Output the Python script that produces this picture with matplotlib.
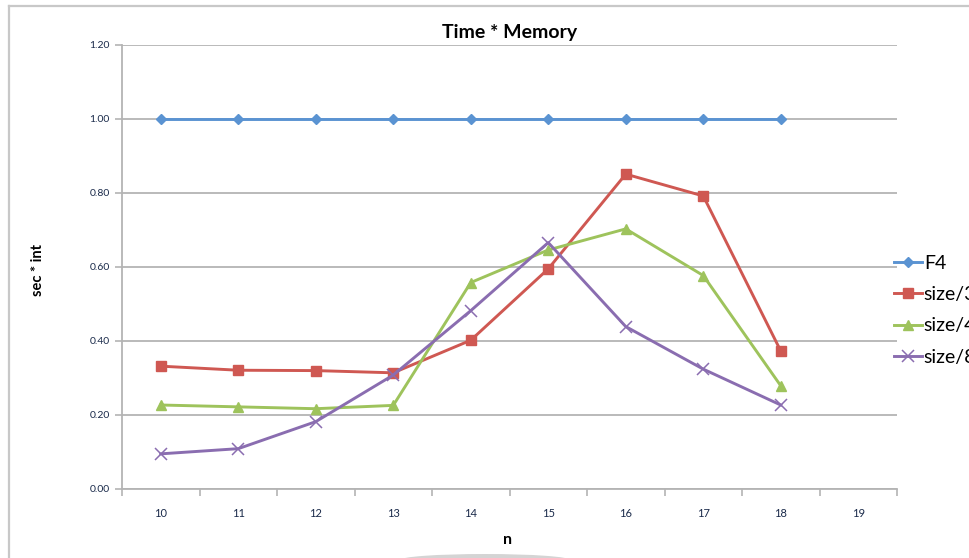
import matplotlib
matplotlib.use("Agg")
import matplotlib.pyplot as plt
from matplotlib.patches import Ellipse
from matplotlib.lines import Line2D

plt.rcParams['font.family'] = ['Lato', 'DejaVu Sans']

n_values = [10, 11, 12, 13, 14, 15, 16, 17, 18]
categories = [10, 11, 12, 13, 14, 15, 16, 17, 18, 19]
f4 = [1.00, 1.00, 1.00, 1.00, 1.00, 1.00, 1.00, 1.00, 1.00]
size_3 = [0.332, 0.321, 0.320, 0.314, 0.402, 0.595, 0.851, 0.792, 0.373]
size_4 = [0.227, 0.222, 0.217, 0.226, 0.558, 0.646, 0.703, 0.577, 0.279]
size_8 = [0.095, 0.109, 0.182, 0.308, 0.482, 0.666, 0.439, 0.324, 0.227]
series_names = ["F4", "size/3", "size/4", "size/8"]
y_ticks = [0.0, 0.2, 0.4, 0.6, 0.8, 1.0, 1.2]

W, H = 969, 558
fig = plt.figure(figsize=(W / 100, H / 100), dpi=100)
fig.patch.set_facecolor("white")

# outer chart frame (top and left edges visible)
fig.add_artist(Line2D([9 / W, 9 / W], [0, 1 - 6 / H], transform=fig.transFigure,
                      color="#c8c8c8", lw=1.6))
fig.add_artist(Line2D([9 / W, 1], [1 - 6 / H, 1 - 6 / H], transform=fig.transFigure,
                      color="#c8c8c8", lw=1.6))

ax = fig.add_axes([122 / W, 1 - 489 / H, (897 - 122) / W, (489 - 45) / H])

colors = ["#5a93d2", "#cf5852", "#9ec35c", "#8a6db0"]
data = [f4, size_3, size_4, size_8]
markers = ["D", "s", "^", "x"]
msizes = [5, 7, 7, 8]
for vals, c, m, ms, name in zip(data, colors, markers, msizes, series_names):
    kw = dict(markeredgewidth=1.1) if m == "x" else dict(markeredgecolor=c)
    ax.plot(n_values, vals, color=c, lw=2.1, marker=m, markersize=ms,
            markerfacecolor=c, label=name, zorder=3, **kw)

ax.set_xlim(9.5, 19.5)
ax.set_ylim(0, 1.2)
ax.set_yticks(y_ticks)
ax.set_yticklabels([f"{v:.2f}" for v in y_ticks])
ax.set_xticks(categories)
ax.set_xticklabels([str(c) for c in categories])
ax.set_xticks([c - 0.5 for c in categories] + [19.5], minor=True)

ax.grid(axis="y", color="#b4b4b4", lw=1.3, zorder=0)
ax.set_axisbelow(True)
for s in ["top", "right"]:
    ax.spines[s].set_visible(False)
for s in ["left", "bottom"]:
    ax.spines[s].set_color("#b4b4b4")
    ax.spines[s].set_linewidth(1.3)

ax.tick_params(axis="y", length=5, color="#b4b4b4", width=1.2, labelsize=7.5,
               labelcolor="#1a2a4a", pad=4)
ax.tick_params(axis="x", which="major", length=0, labelsize=8,
               labelcolor="#1a2a4a", pad=14)
ax.tick_params(axis="x", which="minor", length=5, color="#b4b4b4", width=1.2)

ax.set_title("Time * Memory", fontsize=14, fontweight="bold", pad=5)
fig.text(38 / W, 1 - 270 / H, "sec * int", rotation=90, ha="center", va="center",
         fontsize=10.5, fontweight="bold")
fig.text(507 / W, 1 - 540 / H, "n", ha="center", va="center",
         fontsize=11.5, fontweight="bold")

leg = ax.legend(loc="upper left", bbox_to_anchor=(894 / W, 1 - 255 / H),
                bbox_transform=fig.transFigure, frameon=False, fontsize=14,
                handlelength=1.45, handletextpad=0.08, labelspacing=0.73,
                borderaxespad=0, borderpad=0)
leg.set_clip_on(False)

# soft shadow beneath the chart
fig.add_artist(Ellipse((485 / W, 1 - 560 / H), 170 / W, 12 / H,
                       transform=fig.transFigure, color="#b8b8b8", alpha=0.6, lw=0))

fig.savefig("out.png", dpi=100)
